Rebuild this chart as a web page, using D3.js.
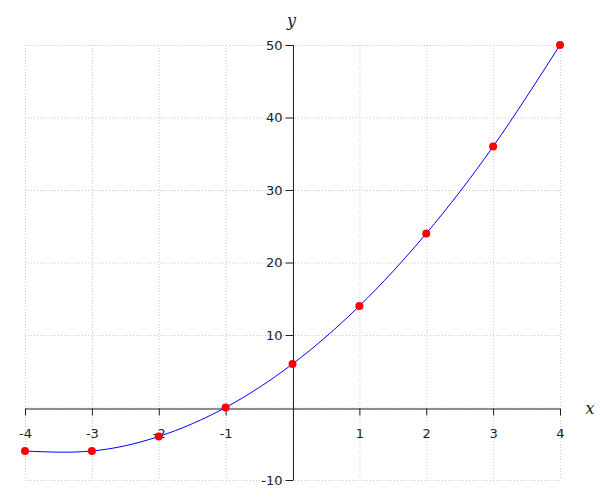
<!DOCTYPE html>
<html><head><meta charset="utf-8">
<script src="https://cdn.jsdelivr.net/npm/d3@7"></script>
<style>body{margin:0;background:#fff}svg{display:block}</style>
</head><body>
<script>
const xValues = [-4, -3, -2, -1, 0, 1, 2, 3, 4];
const yValues = [-6, -6, -4, 0, 6, 14, 24, 36, 50];
const xGridTicks = [-4, -3, -2, -1, 0, 1, 2, 3, 4];
const xTicks = [-4, -3, -2, -1, 1, 2, 3, 4];
const xTickLabels = ["-4", "-3", "-2", "-1", "1", "2", "3", "4"];
const yGridTicks = [-10, 0, 10, 20, 30, 40, 50];
const yTicks = [-10, 10, 20, 30, 40, 50];
const yTickLabels = ["-10", "10", "20", "30", "40", "50"];

const W = 600, H = 500;
const svg = d3.select("body").append("svg").attr("width", W).attr("height", H);
const x = d3.scaleLinear().domain([-4, 4]).range([25, 560]);
const y = d3.scaleLinear().domain([-10, 50]).range([480, 45]);
const font = "DejaVu Sans, sans-serif";

// grid
const grid = svg.append("g").attr("stroke", "#c8c8c8").attr("stroke-width", 1).attr("stroke-dasharray", "1,2");
xGridTicks.forEach(t => grid.append("line").attr("x1", x(t)+0.5).attr("x2", x(t)+0.5).attr("y1", y(50)).attr("y2", y(-10)));
yGridTicks.forEach(t => grid.append("line").attr("x1", x(-4)).attr("x2", x(4)).attr("y1", y(t)+0.5).attr("y2", y(t)+0.5));

// x axis
const xa = svg.append("g").attr("transform", `translate(0,${Math.round(y(0))+0.5})`)
  .call(d3.axisBottom(x).tickValues(xTicks).tickSize(7).tickPadding(13)
    .tickFormat((d, i) => xTickLabels[i]));
xa.select(".domain").attr("d", `M${x(-4)},0.5H${x(4)}`).attr("stroke", "#222");
xa.selectAll(".tick line").attr("stroke", "#222");
xa.selectAll("text").attr("font-family", font).attr("font-size", 13).attr("fill", "#222");

// y axis
const ya = svg.append("g").attr("transform", `translate(${Math.round(x(0))+0.5},0)`)
  .call(d3.axisLeft(y).tickValues(yTicks).tickSize(8).tickPadding(3)
    .tickFormat((d, i) => yTickLabels[i]));
ya.select(".domain").attr("d", `M0,${y(50)}V${y(-10)}`).attr("stroke", "#222");
ya.selectAll(".tick line").attr("stroke", "#222");
ya.selectAll("text").attr("font-family", font).attr("font-size", 13).attr("fill", "#222");

// axis labels
svg.append("text").attr("x", x(0) - 1).attr("y", 26).attr("text-anchor", "middle")
  .attr("font-family", "DejaVu Serif, serif").attr("font-style", "italic").attr("font-size", 16).attr("fill", "#222").text("y");
svg.append("text").attr("x", 590).attr("y", y(0) + 6).attr("text-anchor", "middle")
  .attr("font-family", "DejaVu Serif, serif").attr("font-style", "italic").attr("font-size", 16).attr("fill", "#222").text("x");

// curve
const pts = xValues.map((v, i) => [v, yValues[i]]);
svg.append("path").datum(pts)
  .attr("d", d3.line().x(d => x(d[0])).y(d => y(d[1])).curve(d3.curveNatural))
  .attr("fill", "none").attr("stroke", "#0000ff").attr("stroke-width", 1);

// points
svg.selectAll("circle.pt").data(pts).enter().append("circle")
  .attr("cx", d => x(d[0])).attr("cy", d => y(d[1])).attr("r", 4).attr("fill", "#ff0000");
</script>
</body></html>
